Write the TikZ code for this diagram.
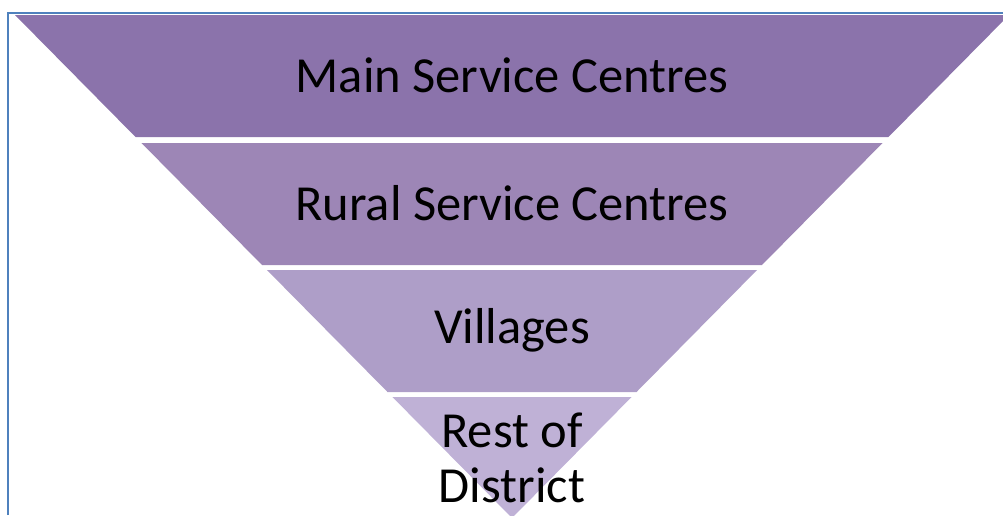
\documentclass[tikz,border=0pt]{standalone}
\usepackage{fontspec}
\setmainfont{Carlito}
\definecolor{bandA}{HTML}{8B73AB}
\definecolor{bandB}{HTML}{9D86B6}
\definecolor{bandC}{HTML}{AE9EC8}
\definecolor{bandD}{HTML}{BFB1D6}
\definecolor{frameblue}{HTML}{4F81BD}
\begin{document}
\begin{tikzpicture}[x=1pt,y=-1pt,
  lbl/.style={font=\fontsize{50.5}{55}\selectfont, text=black, align=center, inner sep=0pt}]
\useasboundingbox (0,0) rectangle (1003,515);
\begin{scope}
\clip (0,0) rectangle (1003,515);
\fill[bandA] (15,15) -- (1009,15) -- (888.46,137) -- (135.54,137) -- cycle;
\fill[bandB] (141.47,143) -- (882.53,143) -- (761.98,265) -- (262.02,265) -- cycle;
\fill[bandC] (266.96,270) -- (757.04,270) -- (636.50,392) -- (387.50,392) -- cycle;
\fill[bandD] (392.44,397) -- (631.56,397) -- (512,518) -- cycle;
\end{scope}
\draw[frameblue, line width=2pt] (7.5,515) -- (7.5,13) -- (1003,13);
\node[lbl] (main) at (512,75) {Main Service Centres};
\node[lbl] (rural) at (512,203) {Rural Service Centres};
\node[lbl] (vill) at (512,330) {Villages};
\node[lbl] (rest) at (512,458) {Rest of\\District};
\end{tikzpicture}
\end{document}
